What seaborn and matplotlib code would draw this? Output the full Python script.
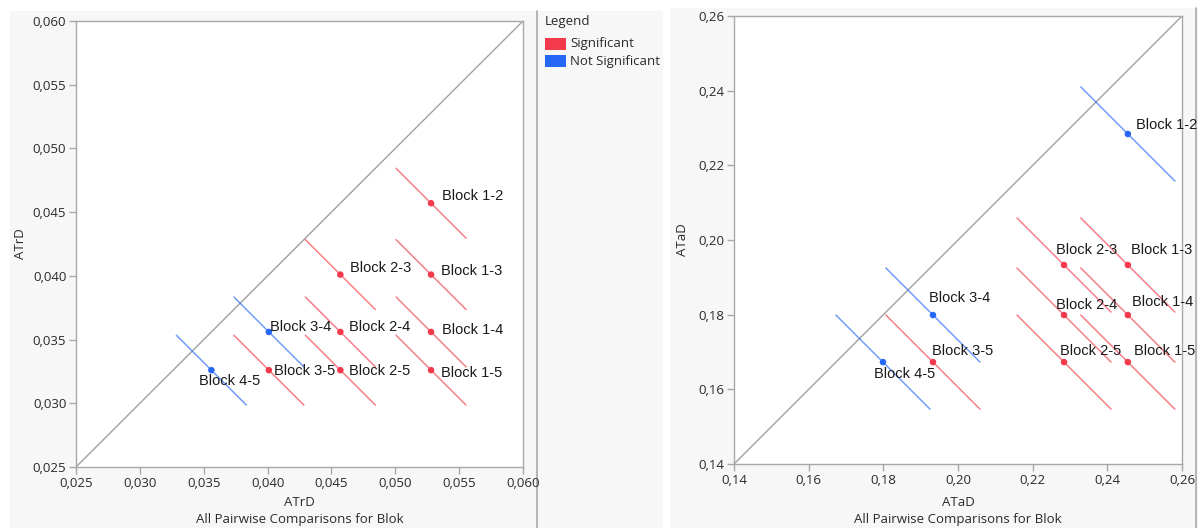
import numpy as np
import pandas as pd
import matplotlib
matplotlib.use("Agg")
import matplotlib.pyplot as plt
import seaborn as sns
from matplotlib.patches import Rectangle
from matplotlib.lines import Line2D
from matplotlib.ticker import FuncFormatter, MultipleLocator

# ---------------- data ----------------
pairs = ["Block 1-2", "Block 1-3", "Block 1-4", "Block 1-5", "Block 2-3",
         "Block 2-4", "Block 2-5", "Block 3-4", "Block 3-5", "Block 4-5"]
pair_i = [0, 0, 0, 0, 1, 1, 1, 2, 2, 3]
pair_j = [1, 2, 3, 4, 2, 3, 4, 3, 4, 4]

atrd_means = [0.0528, 0.0457, 0.0401, 0.0356, 0.0326]
atad_means = [0.2455, 0.2284, 0.1933, 0.1799, 0.1673]
atrd_halfwidth = 0.00274
atad_halfwidth = 0.0126
atrd_significant = [True, True, True, True, True, True, True, False, True, False]
atad_significant = [False, True, True, True, True, True, True, False, True, False]

atrd_ticks = [0.025, 0.030, 0.035, 0.040, 0.045, 0.050, 0.055, 0.060]
atad_ticks = [0.14, 0.16, 0.18, 0.20, 0.22, 0.24, 0.26]

# label offsets in pixels (style only)
atrd_label_off = [(11, 7), (10, 4), (11, 2), (10, -3), (10, 7),
                  (9, 5), (9, -1), (1, 5), (5, -1), (-12, -11)]
atad_label_off = [(8, 9), (3, 15), (4, 13), (6, 11), (-8, 15),
                  (-8, 10), (-4, 11), (-4, 17), (-1, 11), (-9, -12)]

RED = "#F23A4C"
BLUE = "#2767F6"
palette = {"Significant": RED, "Not Significant": BLUE}

W, H = 1198, 528
sns.set_style("white")
plt.rcParams["font.family"] = ["Open Sans", "DejaVu Sans"]

fig = plt.figure(figsize=(W / 100, H / 100), dpi=100, facecolor="white")


def fx(px):
    return px / W


def fy(py):
    return 1 - py / H


# background panels
for (x0, y0, x1, y1) in [(10, 11, 536, 528), (537, 11, 663, 528), (670, 8, 1198, 528)]:
    fig.add_artist(Rectangle((fx(x0), fy(y1)), fx(x1) - fx(x0), fy(y0) - fy(y1),
                             transform=fig.transFigure, facecolor="#F7F7F7",
                             edgecolor="none", zorder=-2))
for xl, (ya, yb) in [(536.5, (11, 528)), (1195.5, (8, 528))]:
    fig.add_artist(Line2D([fx(xl), fx(xl)], [fy(ya), fy(yb)], transform=fig.transFigure,
                          color="#A8A8A8", lw=1.2, zorder=-1))


def build(means, half, sig):
    pts = pd.DataFrame({
        "pair": pairs,
        "x": [means[i] for i in pair_i],
        "y": [means[j] for j in pair_j],
        "status": ["Significant" if s else "Not Significant" for s in sig],
    })
    rows = []
    for _, r in pts.iterrows():
        rows.append({"pair": r.pair, "x": r.x - half, "y": r.y + half, "status": r.status})
        rows.append({"pair": r.pair, "x": r.x + half, "y": r.y - half, "status": r.status})
    segs = pd.DataFrame(rows)
    return pts, segs


def panel(rect, means, half, sig, ticks, fmt, name, offs, xlab_y, sub_y, ylab_x):
    ax = fig.add_axes(rect)
    ax.set_facecolor("white")
    pts, segs = build(means, half, sig)
    lo, hi = ticks[0], ticks[-1]
    ax.plot([lo, hi], [lo, hi], color="#A0A0A0", lw=1.0, zorder=1)
    sns.lineplot(data=segs, x="x", y="y", hue="status", units="pair", estimator=None,
                 sort=False, palette=palette, lw=1.1, alpha=0.65, legend=False, ax=ax, zorder=2)
    sns.scatterplot(data=pts, x="x", y="y", hue="status", palette=palette, s=22,
                    edgecolor="none", legend=False, ax=ax, zorder=3)
    for k, r in pts.iterrows():
        ax.annotate(r.pair, (r.x, r.y), xytext=offs[k], textcoords="offset pixels",
                    ha="left", va="center", fontsize=10.5, color="#1A1A1A",
                    family=["Liberation Sans", "DejaVu Sans"], annotation_clip=False, zorder=4)
    ax.set_xlim(lo, hi)
    ax.set_ylim(lo, hi)
    ax.set_xticks(ticks)
    ax.set_yticks(ticks)
    f = FuncFormatter(lambda v, _: (fmt % v).replace(".", ","))
    ax.xaxis.set_major_formatter(f)
    ax.yaxis.set_major_formatter(f)
    for s in ax.spines.values():
        s.set_color("#A8A8A8")
        s.set_linewidth(1.0)
    ax.tick_params(axis="both", which="both", direction="out", length=5, width=1,
                   color="#A8A8A8", labelsize=9.5, labelcolor="#2A2A2A", pad=2,
                   bottom=True, left=True)
    ax.set_xlabel(name, fontsize=9.5, color="#2A2A2A")
    ax.set_ylabel(name, fontsize=9.5, color="#2A2A2A")
    ax.xaxis.label.set_va("center")
    ax.yaxis.label.set_va("center")
    ax.xaxis.set_label_coords(0.5, xlab_y)
    ax.yaxis.set_label_coords(ylab_x, 0.5)
    ax.text(0.5, sub_y, "All Pairwise Comparisons for Blok", transform=ax.transAxes,
            ha="center", va="center", fontsize=9.5, color="#2A2A2A")
    return ax


# left: x 76..523, y 21..467
panel([fx(76), fy(467), (523 - 76) / W, (467 - 21) / H], atrd_means, atrd_halfwidth,
      atrd_significant, atrd_ticks, "%.3f", "ATrD", atrd_label_off,
      -(502 - 467) / 446, -(520 - 467) / 446, (20 - 76) / 447)
# right: x 734..1182, y 16..464
panel([fx(734), fy(464), (1182 - 734) / W, (464 - 16) / H], atad_means, atad_halfwidth,
      atad_significant, atad_ticks, "%.2f", "ATaD", atad_label_off,
      -(502 - 464) / 448, -(519 - 464) / 448, (683 - 734) / 448)

# legend
fig.text(fx(545), fy(22), "Legend", ha="left", va="center", fontsize=9.5, color="#2A2A2A")
for k, (lab, col) in enumerate(palette.items()):
    yc = 44 + 17 * k
    fig.add_artist(Rectangle((fx(545), fy(yc + 5.5)), 21 / W, 11 / H, transform=fig.transFigure,
                             facecolor=col, edgecolor="none"))
    fig.text(fx(570), fy(yc), lab, ha="left", va="center", fontsize=9.5, color="#2A2A2A")

fig.savefig("out.png", dpi=100, facecolor="white")
